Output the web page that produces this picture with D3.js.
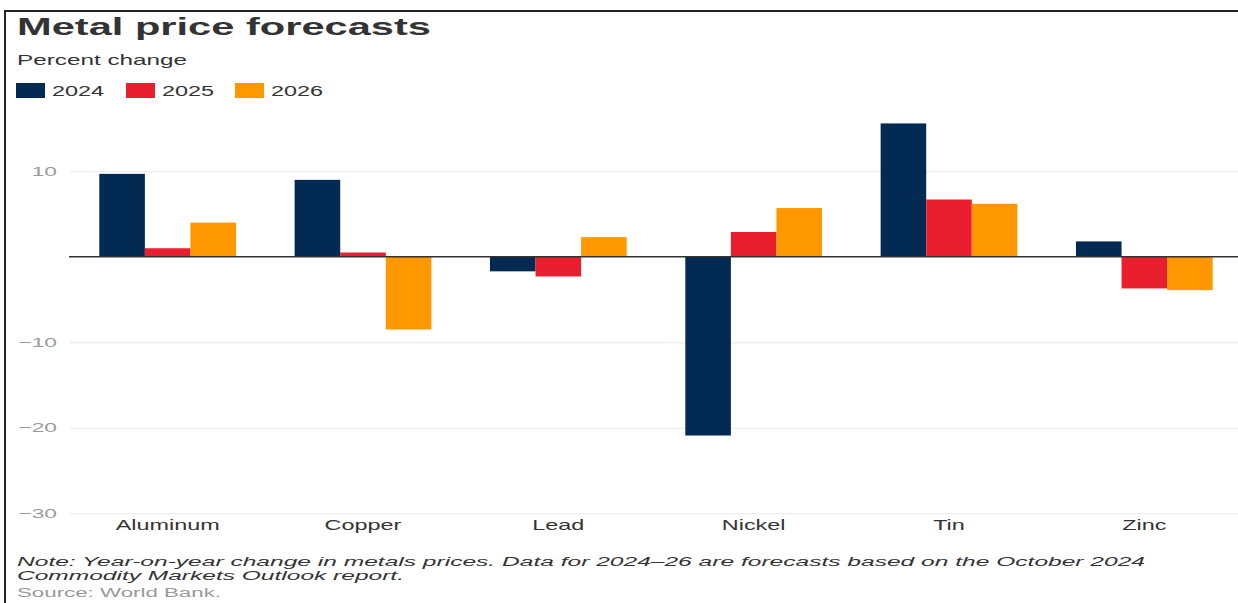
<!DOCTYPE html>
<html>
<head>
<meta charset="utf-8">
<script src="https://cdn.jsdelivr.net/npm/d3@7"></script>
<style>
  body { margin: 0; background: #fff; }
  svg { display: block; font-family: "Liberation Sans", Arial, sans-serif; }
</style>
</head>
<body>
<svg id="chart" width="1238" height="603"></svg>
<script>
const metals = ['Aluminum', 'Copper', 'Lead', 'Nickel', 'Tin', 'Zinc'];
const years = ['2024', '2025', '2026'];
const values2024 = [9.7, 9.0, -1.7, -20.9, 15.6, 1.8];
const values2025 = [1.0, 0.5, -2.3, 2.9, 6.7, -3.7];
const values2026 = [4.0, -8.5, 2.3, 5.7, 6.2, -3.9];
const yTicks = [-30, -20, -10, 10];
const colors = ['#022a52', '#e91e2f', '#ff9700'];

const series = [values2024, values2025, values2026];
const rows = metals.map((m, i) => ({
  metal: m,
  bars: years.map((yr, j) => ({ year: yr, value: series[j][i] }))
}));

const svg = d3.select('#chart');
const width = 1238;

// stretch text horizontally (the reference type is set wide)
function stretch(sel, sx) {
  sel.each(function() {
    const w = this.getComputedTextLength();
    d3.select(this).attr('textLength', w * sx).attr('lengthAdjust', 'spacingAndGlyphs');
  });
}

const x0 = d3.scaleBand().domain(metals).range([70, 1242]).paddingInner(0.3).paddingOuter(0.15);
const x1 = d3.scaleBand().domain(years).range([0, x0.bandwidth()]);
const y = d3.scaleLinear().domain([-30, 10]).range([513.3, 171.3]);
const color = d3.scaleOrdinal().domain(years).range(colors);

// frame
svg.append('line').attr('x1', 4).attr('x2', width).attr('y1', 11).attr('y2', 11)
  .attr('stroke', '#222').attr('stroke-width', 2);
svg.append('line').attr('x1', 5).attr('x2', 5).attr('y1', 10).attr('y2', 603)
  .attr('stroke', '#222').attr('stroke-width', 2);

// titles
svg.append('text').attr('x', 17).attr('y', 35)
  .attr('font-size', 24).attr('font-weight', 'bold').attr('fill', '#333')
  .text('Metal price forecasts')
  .attr('textLength', 414).attr('lengthAdjust', 'spacingAndGlyphs');

svg.append('text').attr('x', 17).attr('y', 65)
  .attr('font-size', 15).attr('fill', '#333')
  .text('Percent change')
  .attr('textLength', 170).attr('lengthAdjust', 'spacingAndGlyphs');

// legend
const legendX = [16, 126, 235];
const leg = svg.selectAll('.leg').data(years).enter().append('g')
  .attr('class', 'leg')
  .attr('transform', (d, i) => `translate(${legendX[i]},83)`);
leg.append('rect').attr('width', 29).attr('height', 15).attr('fill', d => color(d));
leg.append('text').attr('x', 36).attr('y', 12.5)
  .attr('font-size', 14).attr('fill', '#333')
  .text(d => d)
  .attr('textLength', 52).attr('lengthAdjust', 'spacingAndGlyphs');

// y axis with gridlines
const yAxis = svg.append('g').attr('transform', 'translate(70,0)')
  .call(d3.axisLeft(y).tickValues(yTicks).tickSize(-(width - 70)).tickPadding(13));
yAxis.select('.domain').remove();
yAxis.selectAll('.tick line').attr('stroke', '#e8e8e8');
yAxis.selectAll('.tick text')
  .attr('font-family', '"Liberation Sans", Arial, sans-serif')
  .attr('font-size', 13).attr('fill', '#999');
stretch(yAxis.selectAll('.tick text'), 1.75);

// bars
const groups = svg.selectAll('.grp').data(rows).enter().append('g')
  .attr('class', 'grp')
  .attr('transform', d => `translate(${x0(d.metal)},0)`);
groups.selectAll('rect').data(d => d.bars).enter().append('rect')
  .attr('x', d => x1(d.year))
  .attr('width', x1.bandwidth())
  .attr('y', d => y(Math.max(0, d.value)))
  .attr('height', d => Math.abs(y(d.value) - y(0)))
  .attr('fill', d => color(d.year));

// zero line
svg.append('line').attr('x1', 69).attr('x2', width).attr('y1', y(0)).attr('y2', y(0))
  .attr('stroke', '#333').attr('stroke-width', 1.5);

// category labels
const cats = svg.selectAll('.cat').data(metals).enter().append('text')
  .attr('class', 'cat')
  .attr('x', d => x0(d) + x0.bandwidth() / 2)
  .attr('y', 530)
  .attr('text-anchor', 'middle')
  .attr('font-size', 15).attr('fill', '#333')
  .text(d => d);
stretch(cats, 1.56);

// notes
svg.append('text').attr('x', 17).attr('y', 566)
  .attr('font-size', 12).attr('font-style', 'italic').attr('fill', '#333')
  .text('Note: Year-on-year change in metals prices. Data for 2024\u201326 are forecasts based on the October 2024')
  .attr('textLength', 1128).attr('lengthAdjust', 'spacingAndGlyphs');
svg.append('text').attr('x', 17).attr('y', 580)
  .attr('font-size', 12).attr('font-style', 'italic').attr('fill', '#333')
  .text('Commodity Markets Outlook report.')
  .attr('textLength', 387).attr('lengthAdjust', 'spacingAndGlyphs');
svg.append('text').attr('x', 17).attr('y', 597)
  .attr('font-size', 12).attr('fill', '#999')
  .text('Source: World Bank.')
  .attr('textLength', 204).attr('lengthAdjust', 'spacingAndGlyphs');
</script>
</body>
</html>
